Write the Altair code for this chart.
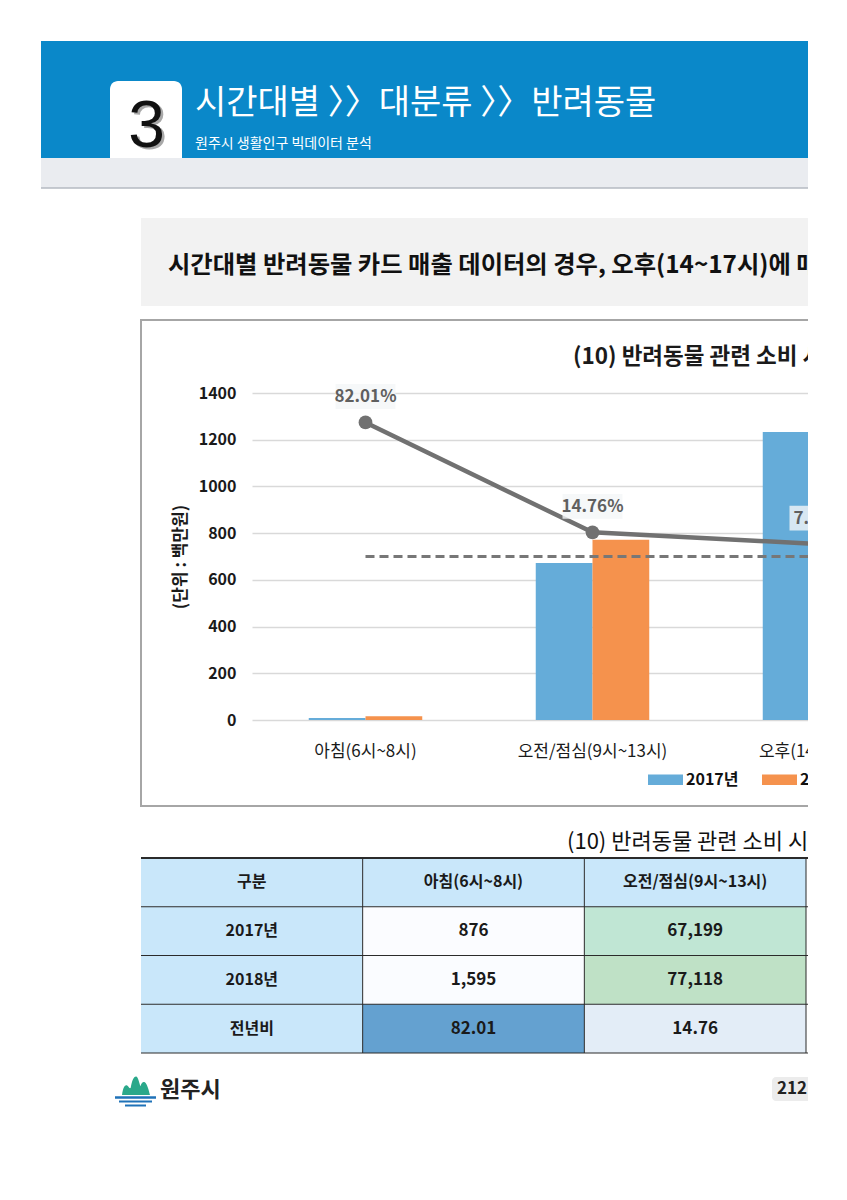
import altair as alt
import pandas as pd

# ---------------- data ----------------
categories = ["아침(6시~8시)", "오전/점심(9시~13시)", "오후(14시~17시)"]
years = ["2017년", "2018년"]
sales_2017 = [8.76, 671.99, 1233.0]      # 백만원
sales_2018 = [15.95, 771.18, 1327.0]
growth_pct = [82.01, 14.76, 7.60]        # 전년비 (%)
zero_ref = [0, 0, 0]
y_ticks = [0, 200, 400, 600, 800, 1000, 1200, 1400]

table_cols = ["구분", "아침(6시~8시)", "오전/점심(9시~13시)"]
table_rows = ["구분", "2017년", "2018년", "전년비"]
table_2017 = [876, 67199]
table_2018 = [1595, 77118]
table_ratio = [82.01, 14.76]

# texts
banner_number = "3"
banner_title = "시간대별 〉〉대분류 〉〉반려동물"
banner_sub = "원주시 생활인구 빅데이터 분석"
summary_text = "시간대별 반려동물 카드 매출 데이터의 경우, 오후(14~17시)에 매출이"
chart_title = "(10) 반려동물 관련 소비 시간대별 매출"
table_title = "(10) 반려동물 관련 소비 시간대별 매출"
y_title = "(단위 : 백만원)"
footer_city = "원주시"
page_no = "212"

FONT = "Noto Sans CJK KR"

# ---------------- layout ----------------
OX, OY = 252, 393          # plot origin on the page
W, H = 556, 327            # plot area


def px(x):
    return x - OX


def py(y):
    return y - OY


dummy = pd.DataFrame({"k": [0]})


def box(x1, y1, x2, y2, **mk):
    return alt.Chart(dummy).mark_rect(**mk).encode(
        x=alt.value(px(x1)), x2=alt.value(px(x2)),
        y=alt.value(py(y1)), y2=alt.value(py(y2)))


def hline(x1, x2, y, **mk):
    return alt.Chart(dummy).mark_rule(**mk).encode(
        x=alt.value(px(x1)), x2=alt.value(px(x2)), y=alt.value(py(y)))


def label(txt, x, y, **mk):
    mk.setdefault("font", FONT)
    return alt.Chart(dummy).mark_text(text=txt, **mk).encode(
        x=alt.value(px(x)), y=alt.value(py(y)))


# ---------------- decorations ----------------
deco = [
    box(41, 41, 808, 158, fill="#0a88c9"),
    box(41, 158, 808, 188, fill="#eaecf0"),
    hline(41, 808, 188, color="#b5bac2", strokeWidth=1.5),
    box(110, 81, 182, 158, fill="#ffffff", cornerRadiusTopLeft=8, cornerRadiusTopRight=8),
    label(banner_number, 149, 149, font="Liberation Sans", fontSize=66, color="#a8a8a8",
          align="center", baseline="alphabetic"),
    label(banner_number, 146.5, 147, font="Liberation Sans", fontSize=66, color="#111111",
          align="center", baseline="alphabetic"),
    label(banner_title, 195, 104, fontSize=34, color="#ffffff", align="left", baseline="middle"),
    label(banner_sub, 195, 144, fontSize=14, color="#ffffff", align="left", baseline="middle"),
    box(141, 218, 808, 306, fill="#f2f2f2"),
    label(summary_text, 168, 266, fontSize=24.3, fontWeight="bold", color="#111111",
          align="left", baseline="middle"),
    box(141, 320, 900, 806, fillOpacity=0, stroke="#a6a6a6", strokeWidth=2),
    label(chart_title, 573, 357, fontSize=22.5, fontWeight="bold", color="#1a1a1a",
          align="left", baseline="middle"),
    label(table_title, 567, 842, fontSize=22, color="#111111", align="left", baseline="middle"),
    # footer
    alt.Chart(dummy).mark_point(
        shape="M-0.875,0.5 C-0.8,0 -0.7,-0.15 -0.55,-0.1 C-0.45,-0.05 -0.4,0.15 -0.33,0.05 "
              "C-0.25,-0.4 -0.15,-0.65 0,-0.65 C0.15,-0.65 0.2,-0.2 0.28,-0.05 "
              "C0.35,-0.3 0.45,-0.35 0.55,-0.3 C0.7,-0.2 0.8,0.2 0.875,0.5 Z",
        size=1024, filled=True, color="#2aa88a", opacity=1).encode(
        x=alt.value(px(136)), y=alt.value(py(1087))),
    hline(115, 156, 1097.5, color="#1f72b8", strokeWidth=2.5),
    hline(119, 152, 1101.5, color="#1f72b8", strokeWidth=2),
    hline(125, 146, 1105.5, color="#1f72b8", strokeWidth=2),
    label(footer_city, 160, 1090, fontSize=22, fontWeight="bold", color="#222222",
          align="left", baseline="middle"),
    box(772, 1077, 815, 1101, fill="#ececec", cornerRadius=4),
    label(page_no, 777, 1089, fontSize=17, fontWeight="bold", color="#222222",
          align="left", baseline="middle"),
]

# ---------------- main chart ----------------
bars = pd.DataFrame({
    "cat": categories * 2,
    "year": [years[0]] * len(categories) + [years[1]] * len(categories),
    "value": sales_2017 + sales_2018,
})
line_df = pd.DataFrame({"cat": categories, "growth": growth_pct, "zero": zero_ref})

xs = alt.Scale(domain=categories, range=[0, 681], paddingInner=0, paddingOuter=0)
ys = alt.Scale(domain=[0, 1400], nice=False, zero=True)
gs = alt.Scale(domain=[-100, 100], nice=False)

bar_layer = alt.Chart(bars).mark_bar().encode(
    x=alt.X("cat:N", scale=xs, sort=categories,
            axis=alt.Axis(title=None, labelFont=FONT, labelFontSize=17, labelColor="#1a1a1a",
                          labelPadding=23, ticks=False, domain=False, grid=False, labelAngle=0)),
    xOffset=alt.XOffset("year:N", sort=years,
                        scale=alt.Scale(domain=years, paddingInner=0, paddingOuter=1)),
    y=alt.Y("value:Q", scale=ys,
            axis=alt.Axis(values=y_ticks, format="d", title=y_title, grid=True,
                          gridColor="#d9d9d9", gridWidth=1.5, domain=False, ticks=False,
                          labelPadding=16, labelFont=FONT, labelFontSize=16,
                          labelFontWeight="bold", labelColor="#1a1a1a", titleFont=FONT,
                          titleFontSize=17, titleFontWeight="bold", titleColor="#1a1a1a",
                          titleX=-72, titleY=H / 2, titleAngle=270,
                          titleBaseline="middle", titleAlign="center")),
    color=alt.Color("year:N", scale=alt.Scale(domain=years, range=["#65acd9", "#f5924d"]),
                    legend=alt.Legend(title=None, orient="none", legendX=396, legendY=369,
                                      direction="horizontal",
                                      symbolType="M-1,-0.3H1V0.3H-1Z", symbolSize=1225,
                                      symbolStrokeWidth=0, symbolOpacity=1,
                                      labelFont=FONT, labelFontSize=16,
                                      labelFontWeight="bold", labelColor="#111111",
                                      labelOffset=3, columnPadding=23, padding=0)),
)

xl = alt.X("cat:N", scale=xs, sort=categories, axis=None)

zero_layer = alt.Chart(line_df).mark_line(color="#777777", strokeWidth=2.8, strokeDash=[9, 5]).encode(
    x=xl, y=alt.Y("zero:Q", scale=gs, axis=None))

growth_line = alt.Chart(line_df).mark_line(color="#717171", strokeWidth=4.5).encode(
    x=xl, y=alt.Y("growth:Q", scale=gs, axis=None))

growth_pts = alt.Chart(line_df).mark_circle(size=190, color="#717171", opacity=1).encode(
    x=xl, y=alt.Y("growth:Q", scale=gs, axis=None))

growth_box = alt.Chart(line_df).mark_point(
    shape="M-1,-1.28 H1 V-0.45 H-1 Z", size=3600, filled=True,
    color="#f4f6f8", opacity=0.8).encode(
    x=xl, y=alt.Y("growth:Q", scale=gs, axis=None))

growth_txt = alt.Chart(line_df).transform_calculate(
    lbl="format(datum.growth, '.2f') + '%'"
).mark_text(font=FONT, fontSize=17, fontWeight="bold", color="#5f5f5f", dy=-25,
            baseline="middle").encode(
    x=xl, y=alt.Y("growth:Q", scale=gs, axis=None), text="lbl:N")

# ---------------- table ----------------
label_cells = pd.DataFrame(
    [{"row": table_rows[0], "col": c, "txt": c} for c in table_cols]
    + [{"row": r, "col": table_cols[0], "txt": r} for r in table_rows[1:]])

value_cells = pd.DataFrame(
    [{"row": table_rows[1], "col": c, "value": v, "txt": f"{v:,}"}
     for c, v in zip(table_cols[1:], table_2017)]
    + [{"row": table_rows[2], "col": c, "value": v, "txt": f"{v:,}"}
       for c, v in zip(table_cols[1:], table_2018)])

ratio_cells = pd.DataFrame(
    [{"row": table_rows[3], "col": c, "value": v, "txt": f"{v:.2f}"}
     for c, v in zip(table_cols[1:], table_ratio)])

tx = alt.Scale(domain=table_cols, range=[px(141), px(806)], paddingInner=0, paddingOuter=0)
ty = alt.Scale(domain=table_rows, range=[py(858), py(1053)], paddingInner=0, paddingOuter=0)
tX = alt.X("col:N", scale=tx, axis=None)
tY = alt.Y("row:N", scale=ty, axis=None)

vals_all = table_2017 + table_2018

t_label = alt.Chart(label_cells).mark_rect(fill="#c9e7fa").encode(x=tX, y=tY)
t_value = alt.Chart(value_cells).mark_rect().encode(
    x=tX, y=tY,
    color=alt.Color("value:Q", scale=alt.Scale(domain=[min(vals_all), max(vals_all)],
                                               range=["#fbfcff", "#bfe1c6"]), legend=None))
t_ratio = alt.Chart(ratio_cells).mark_rect().encode(
    x=tX, y=tY,
    color=alt.Color("value:Q", scale=alt.Scale(domain=[min(table_ratio), max(table_ratio)],
                                               range=["#e3edf7", "#64a1d0"]), legend=None))

t_text_lab = alt.Chart(label_cells).mark_text(font=FONT, fontSize=16, fontWeight="bold",
                                              color="#1a1a1a").encode(x=tX, y=tY, text="txt:N")
t_text_val = alt.Chart(pd.concat([value_cells, ratio_cells])).mark_text(
    font=FONT, fontSize=17, fontWeight="bold", color="#1a1a1a").encode(x=tX, y=tY, text="txt:N")

rows_df = pd.DataFrame({"row": table_rows})
cols_df = pd.DataFrame({"col": table_cols})

t_hlines = alt.Chart(rows_df).mark_rule(color="#2b2b2b", strokeWidth=1).encode(
    y=alt.Y("row:N", scale=ty, axis=None, bandPosition=1),
    x=alt.value(px(141)), x2=alt.value(px(830)))
t_top = alt.Chart(rows_df.head(1)).mark_rule(color="#2b2b2b", strokeWidth=2.2).encode(
    y=alt.Y("row:N", scale=ty, axis=None, bandPosition=0),
    x=alt.value(px(141)), x2=alt.value(px(830)))
t_vlines = alt.Chart(cols_df).mark_rule(color="#2b2b2b", strokeWidth=1).encode(
    x=alt.X("col:N", scale=tx, axis=None, bandPosition=1),
    y=alt.value(py(858)), y2=alt.value(py(1053)))

layers = deco + [bar_layer, zero_layer, growth_line, growth_pts, growth_box, growth_txt,
                 t_label, t_value, t_ratio, t_hlines, t_top, t_vlines, t_text_lab, t_text_val]

chart = alt.layer(*layers).resolve_scale(
    x="independent", y="independent", color="independent"
).properties(
    width=W, height=H,
    padding={"left": OX, "top": OY, "right": 808 - OX - W, "bottom": 1200 - OY - H},
    autosize=alt.AutoSizeParams(type="none"),
    background="#ffffff",
).configure_view(strokeWidth=0)

chart.save("out.html", embed_options={"renderer": "svg", "actions": False})
